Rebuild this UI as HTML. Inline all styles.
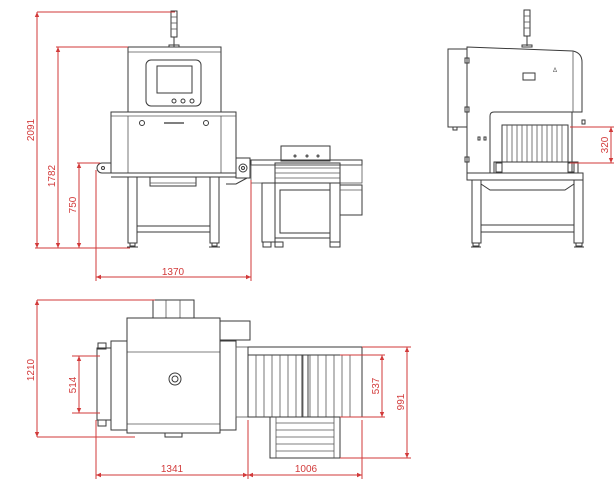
<!DOCTYPE html>
<html><head><meta charset="utf-8"><style>
html,body{margin:0;padding:0;background:#fff;width:616px;height:485px;overflow:hidden}
svg{display:block}
.k{fill:none;stroke:#3a3a3a;stroke-width:1}
.t{fill:none;stroke:#555;stroke-width:0.8}
.r{fill:none;stroke:#d23a3a;stroke-width:1}
.rt{fill:#d23a3a;font-family:"Liberation Sans",sans-serif;font-size:10px}
</style></head><body>
<svg width="616" height="485" viewBox="0 0 616 485" xmlns="http://www.w3.org/2000/svg">
<defs><marker id="a" markerWidth="6" markerHeight="6" refX="5" refY="3" orient="auto-start-reverse"><path d="M0,0.8 L5,3 L0,5.2" fill="#d23a3a"/></marker></defs>

<g>
<rect x="171" y="11" width="6" height="26" class="k"/>
<line x1="171" y1="17" x2="177" y2="17" class="t"/><line x1="171" y1="23" x2="177" y2="23" class="t"/><line x1="171" y1="29" x2="177" y2="29" class="t"/>
<line x1="174" y1="37" x2="174" y2="47" class="k"/><rect x="169" y="45" width="10" height="2" class="k"/>
<rect x="128" y="47" width="93" height="65" class="k"/>
<line x1="128" y1="52" x2="221" y2="52" class="t"/>
<rect x="146" y="60" width="55" height="46" rx="5" class="k"/>
<rect x="157" y="66" width="35" height="27" class="k"/>
<circle cx="174" cy="101" r="2" class="k"/><circle cx="183" cy="101" r="2" class="k"/><circle cx="192" cy="101" r="2" class="k"/>
<rect x="111" y="112" width="125" height="61" class="k"/>
<line x1="111" y1="116" x2="236" y2="116" class="t"/>
<line x1="128" y1="116" x2="128" y2="173" class="t"/><line x1="221" y1="116" x2="221" y2="173" class="t"/>
<circle cx="142" cy="123" r="2.5" class="k"/><circle cx="206" cy="123" r="2.5" class="k"/>
<line x1="164" y1="123" x2="184" y2="123" stroke="#555" stroke-width="1.5"/>
<path d="M111,163 L102,163 A5,5 0 0 0 102,173 L236,173" class="k"/>
<line x1="111" y1="177" x2="236" y2="177" class="k"/>
<circle cx="103" cy="168" r="1.5" class="k"/>
<rect x="236" y="158" width="14" height="20" class="k"/><circle cx="243" cy="168" r="4" class="k"/><circle cx="243" cy="168" r="1.5" class="k"/>
<path d="M226,184 L236,184 L247,178" class="k"/>
<rect x="150" y="177" width="46" height="9" class="k"/><line x1="150" y1="183" x2="196" y2="183" class="t"/>
<rect x="128" y="177" width="9" height="66" class="k"/><rect x="210" y="177" width="9" height="66" class="k"/>
<rect x="137" y="226" width="73" height="6" class="k"/>
<rect x="130" y="243" width="5" height="3" class="k"/><rect x="212" y="243" width="5" height="3" class="k"/>
<line x1="127" y1="247" x2="138" y2="247" class="k"/><line x1="209" y1="247" x2="220" y2="247" class="k"/>
</g>

<g>
<rect x="281" y="146" width="49" height="15" class="k"/>
<circle cx="295" cy="156" r="1" class="k"/><circle cx="307" cy="156" r="1" class="k"/><circle cx="318" cy="156" r="1" class="k"/>
<rect x="251" y="160" width="111" height="5" class="k"/>
<rect x="251" y="165" width="111" height="18" class="t"/>
<rect x="275" y="163" width="65" height="20" class="k"/>
<line x1="275" y1="168" x2="340" y2="168" class="t"/><line x1="275" y1="173" x2="340" y2="173" class="t"/><line x1="275" y1="178" x2="340" y2="178" class="t"/>
<rect x="262" y="183" width="13" height="59" class="k"/><rect x="330" y="183" width="10" height="59" class="k"/>
<rect x="275" y="183" width="55" height="55" class="k"/><rect x="280" y="190" width="50" height="43" class="k"/>
<rect x="340" y="185" width="22" height="30" class="k"/><line x1="340" y1="190" x2="362" y2="190" class="t"/>
<rect x="263" y="242" width="8" height="5" class="k"/><rect x="275" y="242" width="8" height="5" class="k"/><rect x="330" y="242" width="10" height="5" class="k"/>
</g>

<g>
<line x1="37" y1="12" x2="175" y2="12" class="r"/>
<line x1="37" y1="12" x2="37" y2="248" class="r" marker-start="url(#a)" marker-end="url(#a)"/>
<line x1="56" y1="47" x2="128" y2="47" class="r"/>
<line x1="58" y1="47" x2="58" y2="248" class="r" marker-start="url(#a)" marker-end="url(#a)"/>
<line x1="77" y1="163" x2="100" y2="163" class="r"/>
<line x1="79" y1="163" x2="79" y2="248" class="r" marker-start="url(#a)" marker-end="url(#a)"/>
<line x1="35" y1="248" x2="130" y2="248" class="r"/>
<line x1="96" y1="170" x2="96" y2="281" class="r"/>
<line x1="251" y1="180" x2="251" y2="281" class="r"/>
<line x1="96" y1="277" x2="251" y2="277" class="r" marker-start="url(#a)" marker-end="url(#a)"/>
<text class="rt" x="173" y="275" text-anchor="middle">1370</text>
<text class="rt" transform="translate(37,130) rotate(-90)" text-anchor="middle" dy="-3">2091</text>
<text class="rt" transform="translate(58,176) rotate(-90)" text-anchor="middle" dy="-3">1782</text>
<text class="rt" transform="translate(79,205) rotate(-90)" text-anchor="middle" dy="-3">750</text>
</g>

<g>
<rect x="524" y="10" width="6" height="26" class="k"/>
<line x1="524" y1="16" x2="530" y2="16" class="t"/><line x1="524" y1="22" x2="530" y2="22" class="t"/><line x1="524" y1="28" x2="530" y2="28" class="t"/>
<line x1="527" y1="36" x2="527" y2="46" class="k"/><rect x="522" y="45" width="10" height="2" class="k"/>
<path d="M467,47 L573,51 Q582,53 582,62 L582,112 L572,112 L572,173 L467,173 Z" class="k"/>
<line x1="573" y1="51" x2="573" y2="112" class="t"/>
<rect x="448" y="49" width="19" height="78" class="k"/>
<rect x="453" y="127" width="4" height="3" class="k"/>
<rect x="465" y="58" width="4" height="5" class="k"/><rect x="465" y="107" width="4" height="5" class="k"/><rect x="465" y="157" width="4" height="5" class="k"/>
<rect x="523" y="73" width="12" height="7" class="k"/>
<text x="553" y="72" font-family="Liberation Sans,sans-serif" font-size="6" fill="#555">Δ</text>
<path d="M490,173 L490,116 Q490,112 494,112 L572,112" class="k"/>
<rect x="502" y="125" width="66" height="37" class="k"/>
<g class="t">
<line x1="507" y1="125" x2="507" y2="162"/><line x1="512" y1="125" x2="512" y2="162"/><line x1="517" y1="125" x2="517" y2="162"/><line x1="522" y1="125" x2="522" y2="162"/><line x1="527" y1="125" x2="527" y2="162"/><line x1="532" y1="125" x2="532" y2="162"/><line x1="537" y1="125" x2="537" y2="162"/><line x1="542" y1="125" x2="542" y2="162"/><line x1="547" y1="125" x2="547" y2="162"/><line x1="552" y1="125" x2="552" y2="162"/><line x1="557" y1="125" x2="557" y2="162"/><line x1="562" y1="125" x2="562" y2="162"/>
</g>
<rect x="494" y="162" width="84" height="11" class="k"/>
<rect x="496" y="163" width="6" height="9" class="k"/><rect x="568" y="163" width="6" height="9" class="k"/>
<rect x="478" y="137" width="2" height="3" class="k"/><rect x="484" y="137" width="2" height="3" class="k"/>
<rect x="582" y="120" width="3" height="4" class="k"/>
<rect x="467" y="173" width="116" height="7" class="k"/>
<path d="M481,180 L481,184 L490,190 L565,190 L574,184 L574,180" class="k"/>
<rect x="472" y="180" width="9" height="63" class="k"/><rect x="574" y="180" width="9" height="63" class="k"/>
<rect x="481" y="225" width="93" height="7" class="k"/>
<rect x="473" y="243" width="6" height="3" class="k"/><rect x="576" y="243" width="6" height="3" class="k"/>
<line x1="471" y1="247" x2="481" y2="247" class="k"/><line x1="574" y1="247" x2="584" y2="247" class="k"/>
<line x1="570" y1="127" x2="614" y2="127" class="r"/><line x1="570" y1="163" x2="614" y2="163" class="r"/>
<line x1="611" y1="127" x2="611" y2="163" class="r" marker-start="url(#a)" marker-end="url(#a)"/>
<text class="rt" transform="translate(611,145) rotate(-90)" text-anchor="middle" dy="-3">320</text>
</g>

<g>
<rect x="153" y="300" width="41" height="18" class="k"/>
<line x1="166" y1="300" x2="166" y2="318" class="t"/><line x1="180" y1="300" x2="180" y2="318" class="t"/>
<rect x="127" y="318" width="93" height="115" class="k"/>
<line x1="127" y1="352" x2="220" y2="352" class="t"/><line x1="127" y1="424" x2="220" y2="424" class="t"/>
<rect x="220" y="321" width="30" height="19" class="k"/>
<rect x="111" y="341" width="16" height="89" class="k"/><rect x="220" y="341" width="16" height="89" class="k"/>
<rect x="97" y="348" width="14" height="72" class="k"/>
<rect x="98" y="343" width="8" height="6" class="k"/><rect x="98" y="420" width="8" height="6" class="k"/>
<circle cx="175" cy="379" r="6" class="k"/><circle cx="175" cy="379" r="3" class="k"/>
<rect x="165" y="433" width="17" height="4" class="k"/>
<rect x="236" y="347" width="12" height="70" class="t"/>
<rect x="248" y="347" width="114" height="70" class="k"/>
<line x1="248" y1="355" x2="362" y2="355" class="k"/>
<g class="t">
<line x1="256" y1="355" x2="256" y2="417"/><line x1="264" y1="355" x2="264" y2="417"/><line x1="272" y1="355" x2="272" y2="417"/><line x1="280" y1="355" x2="280" y2="417"/><line x1="288" y1="355" x2="288" y2="417"/><line x1="296" y1="355" x2="296" y2="417"/><line x1="303" y1="355" x2="303" y2="417"/><line x1="310" y1="355" x2="310" y2="417"/><line x1="318" y1="355" x2="318" y2="417"/><line x1="326" y1="355" x2="326" y2="417"/><line x1="334" y1="355" x2="334" y2="417"/><line x1="342" y1="355" x2="342" y2="417"/><line x1="350" y1="355" x2="350" y2="417"/>
</g>
<rect x="302" y="355" width="6" height="62" class="k"/>
<rect x="270" y="417" width="70" height="41" class="k"/>
<g class="t">
<line x1="276" y1="423" x2="334" y2="423"/><line x1="276" y1="430" x2="334" y2="430"/><line x1="276" y1="437" x2="334" y2="437"/><line x1="276" y1="444" x2="334" y2="444"/><line x1="276" y1="451" x2="334" y2="451"/>
<line x1="276" y1="417" x2="276" y2="458"/><line x1="334" y1="417" x2="334" y2="458"/>
</g>
</g>

<g>
<line x1="37" y1="300" x2="155" y2="300" class="r"/>
<line x1="37" y1="437" x2="135" y2="437" class="r"/>
<line x1="37" y1="300" x2="37" y2="437" class="r" marker-start="url(#a)" marker-end="url(#a)"/>
<line x1="72" y1="356" x2="100" y2="356" class="r"/><line x1="72" y1="413" x2="100" y2="413" class="r"/>
<line x1="79" y1="356" x2="79" y2="413" class="r" marker-start="url(#a)" marker-end="url(#a)"/>
<line x1="340" y1="355" x2="385" y2="355" class="r"/><line x1="340" y1="417" x2="385" y2="417" class="r"/>
<line x1="382" y1="355" x2="382" y2="417" class="r" marker-start="url(#a)" marker-end="url(#a)"/>
<line x1="362" y1="347" x2="411" y2="347" class="r"/><line x1="340" y1="458" x2="411" y2="458" class="r"/>
<line x1="407" y1="347" x2="407" y2="458" class="r" marker-start="url(#a)" marker-end="url(#a)"/>
<line x1="96" y1="420" x2="96" y2="479" class="r"/><line x1="248" y1="420" x2="248" y2="479" class="r"/><line x1="362" y1="420" x2="362" y2="479" class="r"/>
<line x1="96" y1="475" x2="248" y2="475" class="r" marker-start="url(#a)" marker-end="url(#a)"/>
<line x1="248" y1="475" x2="362" y2="475" class="r" marker-start="url(#a)" marker-end="url(#a)"/>
<text class="rt" x="172" y="472" text-anchor="middle">1341</text>
<text class="rt" x="306" y="472" text-anchor="middle">1006</text>
<text class="rt" transform="translate(37,370) rotate(-90)" text-anchor="middle" dy="-3">1210</text>
<text class="rt" transform="translate(79,385) rotate(-90)" text-anchor="middle" dy="-3">514</text>
<text class="rt" transform="translate(382,386) rotate(-90)" text-anchor="middle" dy="-3">537</text>
<text class="rt" transform="translate(407,402) rotate(-90)" text-anchor="middle" dy="-3">991</text>
</g>
</svg>
</body></html>
